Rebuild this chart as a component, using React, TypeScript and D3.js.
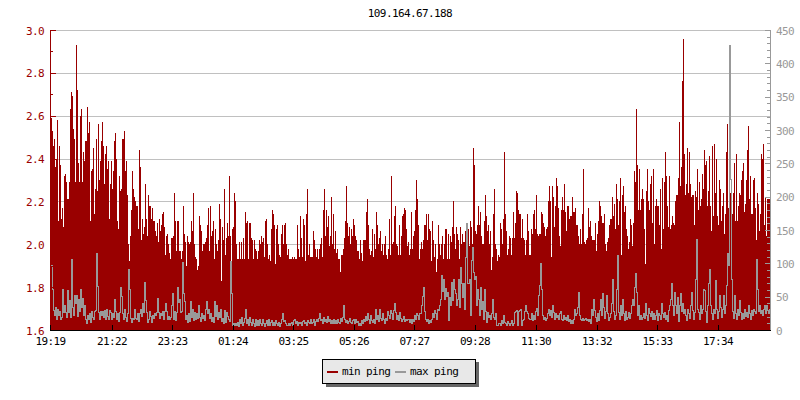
import React from "react";
import * as d3 from "d3";

const TITLE = "109.164.67.188";
const START_HOUR = 19;
const START_MINUTE = 19;
const SPAN_MINUTES = 1440;
const SAMPLE_MINUTES = 2;

const TICK_LABELS = ["19:19", "21:22", "23:23", "01:24", "03:25", "05:26", "07:27", "09:28", "11:30", "13:32", "15:33", "17:34"];
const LEGEND_LABELS = ["min ping", "max ping"];
const LEFT_DOMAIN = [1.6, 3.0];
const RIGHT_DOMAIN = [0, 450];

// min ping (left axis), one sample per 2 minutes
const MIN_PING = [
  2.59,2.53,2.46,2.49,2.36,2.40,2.58,2.11,2.46,2.37,2.12,2.17,2.08,2.32,2.33,2.29,2.21,2.21,2.29,2.63,
  2.71,2.69,2.54,2.49,2.29,2.93,2.72,2.38,2.29,2.60,2.63,2.29,2.43,2.39,2.48,2.48,2.64,2.52,2.57,2.11,
  2.34,2.35,2.45,2.14,2.26,2.49,2.25,2.56,2.30,2.39,2.48,2.57,2.46,2.28,2.42,2.46,2.35,2.39,2.12,2.28,
  2.39,2.26,2.34,2.48,2.52,2.40,2.11,2.07,2.32,2.25,2.26,2.49,2.49,2.53,2.34,2.39,2.23,2.00,1.92,2.04,
  2.16,2.34,2.26,2.22,2.20,2.18,2.18,2.07,2.44,2.36,2.02,2.12,2.05,2.08,2.28,2.12,2.04,2.23,2.18,2.18,
  2.12,2.17,2.11,2.11,2.06,2.04,2.10,2.01,2.12,2.06,2.09,2.14,2.15,2.08,1.95,2.04,2.05,2.00,1.96,
  1.93,2.03,2.03,2.04,2.24,2.11,1.97,2.11,2.11,1.97,
  1.97,1.93,1.97,2.18,2.05,2.01,1.90,2.04,2.01,2.00,
  2.01,2.11,2.06,2.24,2.00,1.94,1.93,1.88,1.90,2.13,
  2.09,2.06,1.97,2.00,2.00,2.01,2.03,2.09,2.17,1.97,
  2.18,2.04,2.06,2.11,1.93,2.07,2.00,1.97,2.02,2.19,
  2.12,1.83,2.08,2.02,2.26,1.95,2.03,2.10,2.04,2.32,
  2.04,1.89,2.07,2.08,2.24,2.20,2.00,1.93,1.93,2.01,
  1.93,2.01,1.93,2.03,1.93,2.15,2.10,2.11,1.93,2.10,
  2.10,2.03,2.02,1.93,2.02,1.98,1.97,1.93,1.97,2.02,
  2.00,2.04,2.01,2.03,1.94,2.11,2.12,2.00,1.93,1.95,
  1.92,2.07,2.16,2.14,2.09,1.91,2.07,2.09,2.00,1.95,
  1.94,2.05,2.09,2.00,2.09,2.10,2.00,1.95,1.98,1.93,
  1.93,1.93,1.94,1.93,1.94,1.93,1.93,2.09,1.98,1.94,
  2.13,2.03,1.94,2.12,2.09,1.92,2.14,2.26,1.95,2.00,
  1.94,1.94,1.94,2.06,2.02,1.98,1.94,1.98,1.93,1.98,
  2.00,2.03,1.94,2.16,2.26,2.04,2.16,2.08,2.13,1.99,
  2.04,2.22,2.00,2.14,1.98,2.06,1.96,1.98,1.93,1.93,
  1.87,1.95,1.95,1.98,2.03,2.11,2.27,2.10,2.04,2.08,
  2.00,2.07,2.04,2.12,2.09,2.04,2.02,1.97,1.97,1.93,
  2.02,1.96,1.92,2.02,2.02,2.02,2.15,2.21,2.09,1.98,
  1.95,1.97,2.07,1.94,2.05,1.98,2.15,2.09,2.00,2.03,
  2.06,1.97,2.00,1.95,2.00,2.04,1.95,1.93,1.98,2.12,
  1.95,2.32,2.00,2.01,2.13,2.18,2.00,1.99,1.95,2.09,
  1.95,2.04,2.13,2.14,2.17,2.16,2.07,1.99,2.01,1.95,
  1.98,2.15,1.98,2.04,2.06,2.16,2.30,2.21,2.09,1.93,
  1.98,2.01,1.98,2.02,2.09,2.09,2.14,2.02,2.14,2.07,
  2.06,1.92,2.11,2.02,1.94,2.00,1.87,1.93,2.09,2.00,
  1.95,2.00,2.04,1.93,2.00,2.07,2.07,1.93,2.05,1.93,
  2.04,2.01,2.08,2.20,2.05,1.98,2.08,2.05,2.02,1.93,
  2.08,2.00,2.05,2.01,2.01,2.06,2.10,1.99,2.07,1.99,
  2.11,2.08,2.00,2.45,2.37,2.06,2.05,2.09,2.18,2.09,
  2.15,2.04,2.00,2.00,2.11,2.23,2.13,2.06,2.09,2.00,
  2.06,1.88,1.94,2.14,2.26,2.00,1.98,1.92,1.95,1.94,
  2.10,2.07,2.00,2.12,2.43,2.14,2.06,1.95,1.98,2.04,
  2.03,1.95,2.03,2.15,2.03,2.10,2.25,2.24,2.16,2.14,
  2.14,2.03,2.12,2.03,2.02,1.95,2.02,2.14,2.06,1.95,
  1.95,2.07,2.05,2.14,2.16,2.07,2.23,2.05,2.04,2.05,
  2.05,2.15,2.14,2.10,2.08,2.04,2.07,2.08,2.20,2.27,
  2.20,1.94,2.27,2.22,2.08,2.18,2.31,2.27,2.17,2.04,
  1.99,2.16,2.22,2.16,2.28,2.15,2.06,2.18,2.18,2.12,
  2.13,2.13,2.22,2.15,2.15,2.17,2.09,2.09,2.04,2.00,
  2.07,2.00,2.14,2.35,2.01,2.00,2.02,2.03,2.17,2.08,
  2.11,2.04,2.02,2.02,2.02,2.10,1.97,2.05,2.11,2.20,
  2.18,2.13,2.10,2.10,2.14,2.00,1.97,2.01,2.03,2.09,
  2.12,2.12,2.22,2.13,2.19,2.07,2.28,2.21,2.09,2.20,
  2.31,1.95,2.23,2.27,2.15,2.18,2.07,2.04,1.98,2.01,
  2.12,2.09,1.99,2.10,2.34,2.29,2.63,2.37,2.16,2.35,
  2.16,2.21,2.26,2.21,2.07,1.91,2.25,2.35,2.20,2.16,
  2.28,2.32,2.10,2.35,2.00,2.18,2.21,2.18,2.18,2.09,
  2.26,1.98,2.31,2.07,2.29,2.43,2.32,2.18,2.08,2.32,
  2.07,2.09,2.13,2.10,2.09,2.20,2.23,2.23,2.31,2.57,
  2.27,2.36,2.76,2.96,2.42,2.23,2.28,2.45,2.24,2.43,
  2.28,2.22,2.23,2.23,2.09,2.25,2.22,2.35,2.16,2.29,
  2.18,2.21,2.33,2.26,2.44,2.37,2.39,2.18,2.25,2.41,
  2.18,2.06,2.46,2.13,2.47,2.24,2.40,2.13,2.09,2.30,
  2.26,2.11,2.18,2.24,2.05,2.14,2.43,2.56,2.17,2.29,
  2.24,2.25,2.14,2.24,2.38,2.11,2.42,2.11,2.18,2.24,
  2.23,2.30,2.34,2.38,2.15,2.19,2.30,2.44,2.55,2.21,
  2.32,2.14,2.14,2.30,2.31,2.17,2.02,2.24,2.19,2.06,
  2.14,2.42,2.40,2.47,2.09,2.22,2.04,2.21,2.21,2.21,
];

// max ping (right axis), one sample per 2 minutes
const MAX_PING = [
  98,62,30,22,35,17,32,22,28,17,
  20,62,27,38,27,20,60,27,45,20,
  106,35,22,53,40,52,21,47,28,61,
  35,48,22,37,17,11,22,17,25,12,
  28,20,17,28,30,115,66,27,17,28,
  22,28,20,30,17,32,21,16,30,27,
  17,26,20,46,28,17,26,13,27,65,
  51,26,17,31,20,13,26,92,62,18,
  12,18,16,31,18,17,26,13,25,31,
  21,41,27,72,45,27,12,17,28,21,
  12,23,18,26,22,27,48,27,18,26,
  22,28,17,28,40,28,17,21,17,
  20,37,55,17,28,15,27,65,42,46,
  27,28,102,55,43,16,23,12,26,13,
  43,20,31,15,27,16,26,18,37,20,
  13,26,18,22,15,32,43,26,32,18,
  26,13,20,12,43,21,37,17,27,20,
  31,13,18,11,30,12,27,21,17,13,
  103,55,8,11,7,10,8,12,6,17,
  10,20,8,12,18,32,11,17,8,20,
  12,8,16,10,6,17,8,15,8,17,
  11,7,17,11,6,10,15,7,16,8,
  12,15,7,12,8,15,10,7,12,6,
  10,17,26,13,15,10,7,8,10,7,
  10,12,7,15,16,11,13,8,12,10,
  12,8,13,15,10,12,8,15,12,10,
  17,10,12,16,8,13,17,13,18,25,
  15,17,10,20,13,17,12,21,13,17,
  11,15,10,17,11,15,10,17,12,10,
  18,13,20,38,17,12,15,10,13,18,
  12,10,15,16,10,17,12,13,8,11,
  8,15,11,17,13,21,15,26,17,11,
  23,15,12,17,10,31,17,22,13,31,
  18,15,26,17,11,18,15,28,22,18,
  30,26,17,30,41,27,17,22,15,27,
  18,13,17,21,13,17,15,17,16,12,
  17,10,16,13,22,17,26,22,17,26,
  25,38,51,65,28,17,13,17,11,15,
  12,17,26,20,30,26,17,32,30,37,
  47,82,58,76,47,63,51,57,15,50,
  37,72,45,76,62,55,37,47,76,35,
  95,70,50,70,32,110,160,70,71,77,
  23,105,125,87,77,81,37,62,46,23,
  65,31,43,17,62,28,12,27,20,22,
  16,25,46,20,17,26,8,7,10,11,
  8,15,10,22,12,10,8,13,10,7,
  11,15,8,11,27,28,30,7,28,30,
  31,8,15,17,28,38,28,25,18,17,
  17,26,15,22,17,28,33,22,53,68,
  100,62,23,17,20,15,18,26,31,22,
  30,20,37,27,17,26,20,22,17,25,
  28,17,15,22,16,20,15,22,13,17,
  11,15,11,17,31,22,26,35,57,22,
  17,15,18,15,17,18,15,17,13,17,
  11,32,22,47,30,20,13,26,15,30,
  47,22,55,35,18,28,52,26,15,20,
  26,40,77,28,17,22,62,113,27,17,
  37,22,46,26,15,28,17,20,27,18,
  26,37,46,38,65,85,57,23,37,17,
  23,16,20,26,18,40,22,15,33,26,
  21,28,17,26,17,22,30,15,26,22,
  17,41,26,20,27,17,23,13,30,38,
  46,70,38,22,57,38,26,50,13,37,
  55,28,41,26,32,22,15,32,26,18,
  37,57,30,17,27,76,137,32,27,17,
  37,26,31,62,60,28,12,37,70,92,
  37,26,17,32,26,75,32,18,28,53,
  35,20,32,53,26,38,68,115,97,428,
  226,77,28,18,52,26,17,32,23,45,
  27,17,25,18,32,21,27,20,37,26,
  17,30,22,32,28,26,107,62,28,37,
  25,30,22,31,37,26,37,30,25,32,
];

const RED = "#990000";
const GRAY = "#999999";
const FONT = "'DejaVu Sans Mono', 'Liberation Mono', monospace";

export default function App() {
  const W = 800;
  const H = 400;
  const left = 50, right = 770, top = 30, bottom = 330;

  const base = new Date(2024, 0, 1, START_HOUR, START_MINUTE);
  const x = d3
    .scaleTime()
    .domain([base, d3.timeMinute.offset(base, SPAN_MINUTES)])
    .range([left, right]);
  const yL = d3.scaleLinear().domain(LEFT_DOMAIN).range([bottom, top]);
  const yR = d3.scaleLinear().domain(RIGHT_DOMAIN).range([bottom, top]);

  const times = MIN_PING.map((_, i) => d3.timeMinute.offset(base, SAMPLE_MINUTES * (i + 1)));

  const tickDates = TICK_LABELS.map((lbl) => {
    const [h, m] = lbl.split(":").map(Number);
    let d = new Date(2024, 0, 1, h, m);
    if (d < base) d = d3.timeDay.offset(d, 1);
    return { lbl, d };
  });

  const leftMajor = yL.ticks(7);
  const leftMinor = yL.ticks(14);
  const rightMajor = yR.ticks(9);
  const rightMinor = yR.ticks(45);

  const snap = (v: number) => Math.round(v) + 0.5;
  const textStyle = { fontFamily: FONT, fontSize: 11, letterSpacing: -0.6 } as React.CSSProperties;

  // max ping drawn as a pixel line: each sample is a vertical run joining the previous value
  const grayRuns = MAX_PING.map((v, i) => {
    const yc = Math.round(yR(v));
    const yp = i === 0 ? yc : Math.round(yR(MAX_PING[i - 1]));
    const y0 = Math.min(yc, yp);
    const y1 = Math.max(yc, yp);
    return { x: Math.round(x(times[i])), y: y0, h: y1 - y0 + 1 };
  });

  return (
    <svg
      width={W}
      height={H}
      viewBox={`0 0 ${W} ${H}`}
      style={{ position: "absolute", left: 0, top: 0, background: "#fff" }}
    >
      <rect x={0} y={0} width={W} height={H} fill="#fff" />
      <text x={(left + right) / 2} y={17} textAnchor="middle" fill="#000" style={textStyle}>
        {TITLE}
      </text>

      {/* grid */}
      <g shapeRendering="crispEdges">
        {leftMajor
          .filter((v) => v > LEFT_DOMAIN[0] + 1e-9)
          .map((v) => (
            <line key={"g" + v} x1={left} x2={right} y1={snap(yL(v))} y2={snap(yL(v))} stroke="#c0c0c0" strokeWidth={1} />
          ))}
      </g>

      {/* min ping bars */}
      <g shapeRendering="crispEdges" fill={RED}>
        {MIN_PING.map((v, i) => {
          const xr = x(times[i]);
          const xl = i === 0 ? xr - 1 : x(times[i - 1]);
          const yt = Math.round(yL(v));
          return <rect key={i} x={Math.round(xr)} y={yt} width={Math.max(1, Math.round(xr - xl))} height={bottom - yt} />;
        })}
      </g>

      {/* max ping line */}
      <g shapeRendering="crispEdges" fill={GRAY}>
        {grayRuns.map((r, i) => (
          <rect key={"m" + i} x={r.x} y={r.y} width={1} height={r.h} />
        ))}
      </g>

      {/* left axis */}
      <g shapeRendering="crispEdges">
        <line x1={left + 0.5} x2={left + 0.5} y1={top} y2={bottom} stroke={RED} />
        {leftMinor.map((v) => {
          const major = leftMajor.some((m) => Math.abs(m - v) < 1e-9);
          return (
            <line key={"lt" + v} x1={left} x2={left + (major ? 6 : 3)} y1={snap(yL(v))} y2={snap(yL(v))} stroke={RED} />
          );
        })}
      </g>
      {leftMajor.map((v) => (
        <text key={"ll" + v} x={44} y={yL(v) + 4.5} textAnchor="end" fill={RED} style={textStyle}>
          {d3.format(".1f")(v)}
        </text>
      ))}

      {/* right axis */}
      <g shapeRendering="crispEdges">
        <line x1={right + 0.5} x2={right + 0.5} y1={top} y2={bottom} stroke={GRAY} />
        {rightMinor.map((v) => {
          const major = v % 50 === 0;
          return (
            <line key={"rt" + v} x1={right - (major ? 5 : 3)} x2={right + 1} y1={snap(yR(v))} y2={snap(yR(v))} stroke={GRAY} />
          );
        })}
      </g>
      {rightMajor.map((v) => (
        <text key={"rl" + v} x={776} y={yR(v) + 4.5} textAnchor="start" fill={GRAY} style={textStyle}>
          {String(v)}
        </text>
      ))}

      {/* bottom axis */}
      <g shapeRendering="crispEdges">
        <line x1={left} x2={right + 1} y1={bottom + 0.5} y2={bottom + 0.5} stroke="#000" />
        {tickDates.map(({ lbl, d }) => (
          <line key={"bt" + lbl} x1={snap(x(d))} x2={snap(x(d))} y1={bottom - 5} y2={bottom} stroke="#000" />
        ))}
      </g>
      {tickDates.map(({ lbl, d }) => (
        <text key={"bl" + lbl} x={x(d) + 0.5} y={345} textAnchor="middle" fill="#000" style={textStyle}>
          {lbl}
        </text>
      ))}

      {/* legend */}
      <g shapeRendering="crispEdges">
        <rect x={326} y={362} width={153} height={25} fill="#666666" />
        <rect x={322.5} y={359.5} width={153} height={24} fill="#e8e8e8" stroke="#000" />
        <line x1={327} x2={338} y1={372} y2={372} stroke={RED} strokeWidth={2} />
        <line x1={395} x2={406} y1={372} y2={372} stroke={GRAY} strokeWidth={2} />
      </g>
      <text x={342} y={375} fill="#000" style={textStyle}>
        {LEGEND_LABELS[0]}
      </text>
      <text x={410} y={375} fill="#000" style={textStyle}>
        {LEGEND_LABELS[1]}
      </text>
    </svg>
  );
}
